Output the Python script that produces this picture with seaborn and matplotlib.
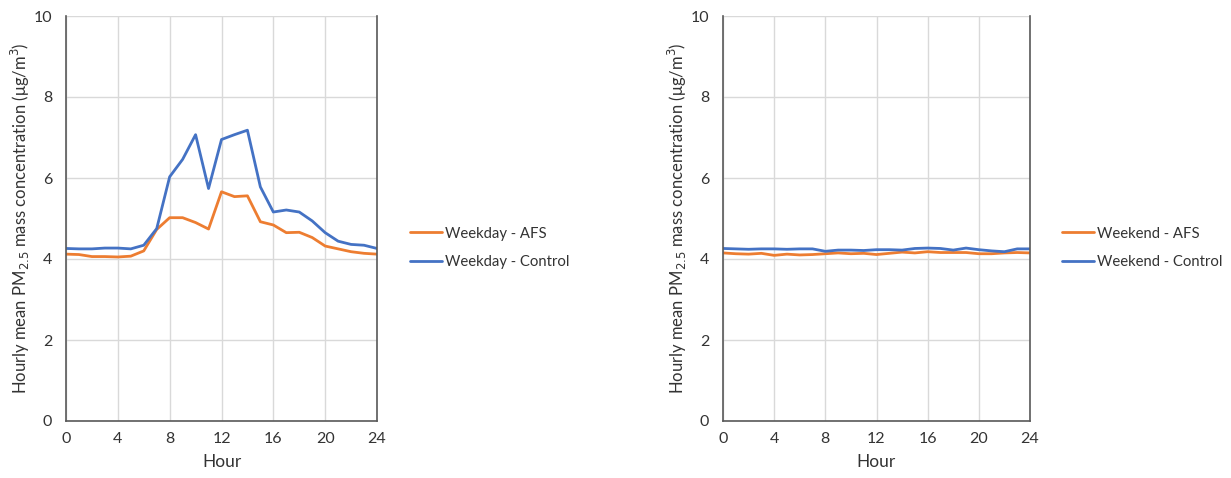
import numpy as np
import pandas as pd
import matplotlib
matplotlib.use("Agg")
import matplotlib.pyplot as plt
import seaborn as sns

hours = list(range(0, 25))

weekday_afs = [4.12, 4.11, 4.06, 4.06, 4.05, 4.07, 4.20, 4.73, 5.02, 5.02, 4.90, 4.74,
               5.66, 5.54, 5.56, 4.92, 4.84, 4.65, 4.66, 4.53, 4.32, 4.25, 4.18, 4.14, 4.12]
weekday_control = [4.26, 4.25, 4.25, 4.27, 4.27, 4.25, 4.34, 4.75, 6.03, 6.46, 7.07, 5.74,
                   6.95, 7.07, 7.18, 5.78, 5.16, 5.21, 5.16, 4.94, 4.65, 4.44, 4.36, 4.34, 4.26]
weekend_afs = [4.15, 4.13, 4.12, 4.14, 4.09, 4.12, 4.10, 4.11, 4.13, 4.15, 4.13, 4.14,
               4.11, 4.14, 4.17, 4.15, 4.18, 4.16, 4.16, 4.16, 4.13, 4.13, 4.15, 4.16, 4.15]
weekend_control = [4.26, 4.25, 4.24, 4.25, 4.25, 4.24, 4.25, 4.25, 4.19, 4.22, 4.22, 4.21,
                   4.23, 4.23, 4.22, 4.26, 4.27, 4.26, 4.22, 4.27, 4.23, 4.20, 4.18, 4.25, 4.25]

x_ticks = [0, 4, 8, 12, 16, 20, 24]
y_ticks = [0, 2, 4, 6, 8, 10]

ORANGE = "#ED7D31"
BLUE = "#4472C4"

sns.set_style("white")
plt.rcParams["font.family"] = ["Lato", "DejaVu Sans"]

fig = plt.figure(figsize=(12.31, 4.78), dpi=100)
ax1 = fig.add_axes([66 / 1231, 1 - 421 / 478, 311 / 1231, 405 / 478])
ax2 = fig.add_axes([723 / 1231, 1 - 421 / 478, 307 / 1231, 405 / 478])

ylab = r"Hourly mean PM$_{2.5}$ mass concentration ($\mathregular{\mu}$g/m$^{3}$)"

panels = [
    (ax1, "Weekday", weekday_afs, weekday_control, 410 / 1231),
    (ax2, "Weekend", weekend_afs, weekend_control, 1062 / 1231),
]

for ax, day, afs, ctrl, leg_x in panels:
    df = pd.DataFrame({
        "Hour": hours * 2,
        "value": afs + ctrl,
        "series": [f"{day} - AFS"] * 25 + [f"{day} - Control"] * 25,
    })
    sns.lineplot(data=df, x="Hour", y="value", hue="series", ax=ax,
                 palette=[ORANGE, BLUE], linewidth=2, legend=False)
    ax.set_xlim(0, 24)
    ax.set_ylim(0, 10)
    ax.set_xticks(x_ticks)
    ax.set_yticks(y_ticks)
    ax.grid(True, color="#D9D9D9", linewidth=1)
    ax.set_axisbelow(True)
    for s in ["left", "bottom", "right"]:
        ax.spines[s].set_color("#595959")
        ax.spines[s].set_linewidth(1.2)
    ax.spines["top"].set_visible(False)
    ax.tick_params(axis="both", direction="inout", length=8, width=1,
                   color="#595959", labelsize=11.5, labelcolor="#333333")
    ax.tick_params(axis="y", pad=6)
    ax.tick_params(axis="x", pad=4)
    ax.set_xlabel("Hour", fontsize=12.5, color="#333333", labelpad=6)
    ax.set_ylabel(ylab, fontsize=12, color="#333333", labelpad=1)

    handles = [plt.Line2D([], [], color=ORANGE, lw=2), plt.Line2D([], [], color=BLUE, lw=2)]
    fig.legend(handles, [f"{day} - AFS", f"{day} - Control"],
               loc="center left", bbox_to_anchor=(leg_x, 1 - 248 / 478),
               frameon=False, fontsize=10.7, handlelength=2.15, handletextpad=0.2,
               labelspacing=1.0, labelcolor="#333333", borderpad=0, borderaxespad=0)

fig.savefig("out.png", dpi=100)
